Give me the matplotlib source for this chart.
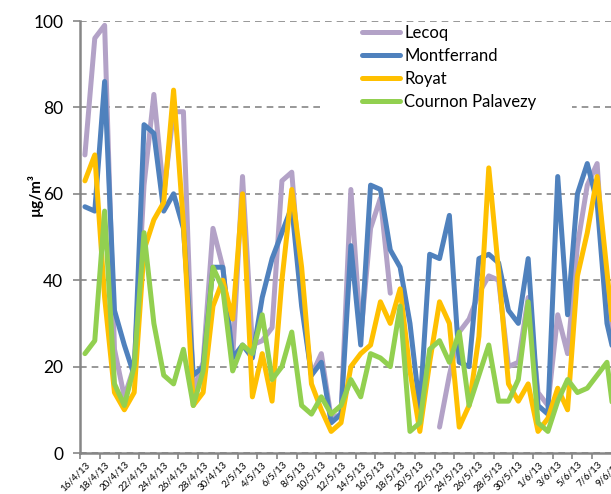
import numpy as np
import pandas as pd
import matplotlib
matplotlib.use("Agg")
from matplotlib import pyplot as plt

plt.rcParams['font.family'] = ['Lato', 'DejaVu Sans']

# jours du 16/4/13 au 9/6/13
dates = pd.date_range('2013-04-16', '2013-06-09')
date_labels = [f'{d.day}/{d.month}/13' for d in dates]

nan = np.nan
lecoq = [69, 96, 99, 24, 13, 20, 62, 83, 60, 79, 79, 14, 21, 52, 43, 22, 64, 25, 26, 29,
         63, 65, 36, 18, 23, 8, 9, 61, 27, 52, 59, 37, nan, nan, nan, nan, 6, 18, 28, 31,
         37, 41, 40, 20, 21, 36, 14, 11, 32, 23, 48, 62, 67, 32, 25]
montferrand = [57, 56, 86, 33, 25, 18, 76, 74, 56, 60, 52, 18, 20, 43, 43, 22, 25, 22, 36, 45,
               51, 57, 34, 18, 21, 7, 9, 48, 25, 62, 61, 47, 43, 30, 10, 46, 45, 55, 21, 20,
               45, 46, 44, 33, 30, 45, 11, 9, 64, 32, 60, 67, 58, 30, 20]
royat = [63, 69, 36, 14, 10, 14, 47, 54, 58, 84, 53, 11, 14, 34, 40, 31, 60, 13, 23, 12,
         40, 61, 43, 16, 10, 5, 7, 20, 23, 25, 35, 30, 38, 19, 5, 21, 35, 30, 6, 11,
         27, 66, 42, 16, 12, 16, 5, 8, 15, 10, 41, 51, 64, 42, 20]
cournon = [23, 26, 56, 16, 11, 20, 51, 30, 18, 16, 24, 11, 19, 43, 38, 19, 25, 23, 32, 17,
           20, 28, 11, 9, 13, 9, 11, 17, 13, 23, 22, 20, 34, 5, 7, 24, 26, 21, 28, 11,
           18, 25, 12, 12, 17, 35, 7, 5, 12, 17, 14, 15, 18, 21, 3]

series = [('Lecoq', lecoq, '#B3A2C7'),
          ('Montferrand', montferrand, '#4F81BD'),
          ('Royat', royat, '#FFC000'),
          ('Cournon Palavezy', cournon, '#92D050')]

W, H = 611, 494
fig = plt.figure(figsize=(W / 100, H / 100), dpi=100)
# zone de tracé : axe y à x=80px, axe x à y=453px, 100 à y=21px (coupée à droite)
n = len(dates)
day_px = 9.85
ax = fig.add_axes([80 / W, (H - 453) / H, n * day_px / W, 432 / H])

x = np.arange(n)
for name, vals, col in series:
    ax.plot(x, vals, color=col, lw=3.6, label=name,
            solid_joinstyle='round', solid_capstyle='round', zorder=3)

ax.set_xlim(-0.5, n - 0.5)
ax.set_ylim(0, 100)
ax.set_yticks(range(0, 101, 20))
ax.yaxis.grid(True, color='#868686', lw=1.2, ls=(0, (4, 3)))
ax.set_axisbelow(True)

for s in ['top', 'right']:
    ax.spines[s].set_visible(False)
for s in ['left', 'bottom']:
    ax.spines[s].set_color('#868686')
    ax.spines[s].set_linewidth(1.8)

ax.tick_params(axis='y', length=5, width=1.2, color='#868686', labelsize=12.5, pad=7)
ax.set_xticks(x[::2])
ax.set_xticklabels(date_labels[::2], rotation=45, ha='right', va='top',
                   rotation_mode='anchor', fontsize=7)
ax.tick_params(axis='x', which='major', length=0, pad=5)
ax.set_xticks(np.arange(-0.5, n, 2), minor=True)
ax.tick_params(axis='x', which='minor', length=4, width=1.2, color='#868686')

# fond blanc de la légende (masque la grille)
ax.add_patch(plt.Rectangle((322 / W, 1 - 122 / H), 250 / W, 96 / H,
                           transform=fig.transFigure, facecolor='white',
                           edgecolor='none', zorder=1))
ax.legend(loc='upper left', bbox_to_anchor=(362 / W, 1 - 25 / H),
          bbox_transform=fig.transFigure, frameon=False, fontsize=12,
          handlelength=2.3, handletextpad=0.25, labelspacing=0.42,
          borderpad=0, borderaxespad=0)

fig.text(35 / W, 1 - 195 / H, 'µg/m³', rotation=90, ha='center', va='center',
         fontsize=11, fontweight='bold')

fig.savefig('out.png', dpi=100)
